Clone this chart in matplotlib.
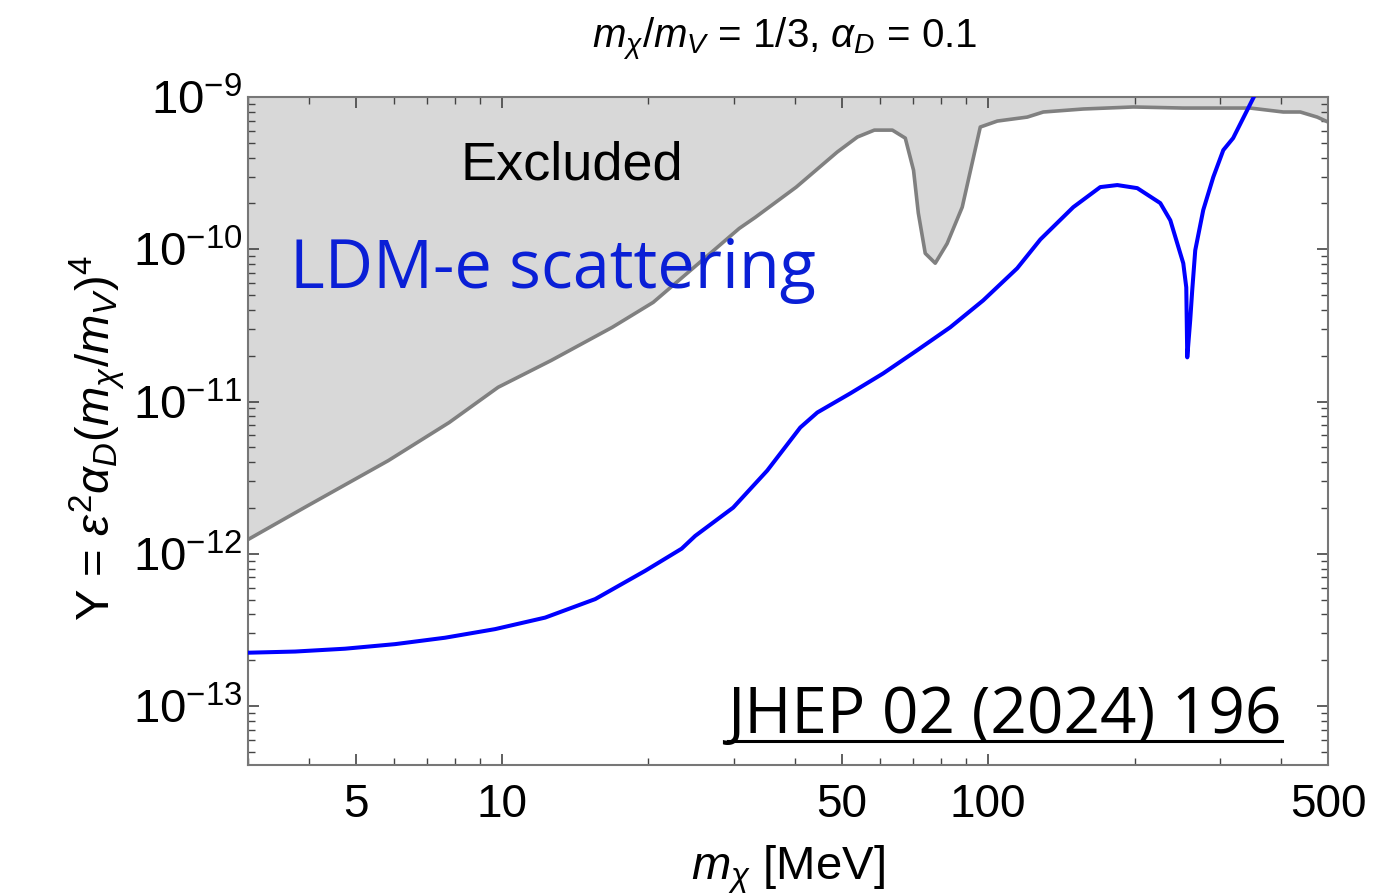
import numpy as np
import matplotlib
matplotlib.use("Agg")
import matplotlib.pyplot as plt
from matplotlib.ticker import FixedLocator, FixedFormatter, LogFormatterSciNotation, NullFormatter
from matplotlib.lines import Line2D

plt.rcParams['font.family'] = ['Liberation Sans', 'DejaVu Sans']
plt.rcParams['mathtext.fontset'] = 'custom'
plt.rcParams['mathtext.rm'] = 'Liberation Sans'
plt.rcParams['mathtext.it'] = 'Liberation Sans:italic'
plt.rcParams['mathtext.bf'] = 'Liberation Sans:bold'

# Exclusion boundary (gray)
gray_m = [3.0, 3.95, 5.83, 7.78, 9.81, 12.61, 16.84, 20.45, 24.83, 30.74, 33.17,
          40.27, 48.9, 53.8, 58.3, 63.5, 67.5, 70.2, 71.8, 74.2, 77.8, 82.3, 88.4,
          96.3, 104.4, 120.3, 129.8, 156.8, 198.8, 251.9, 346.0, 404.6, 438.5,
          475.0, 500.0]
gray_y = [1.24e-12, 2.04e-12, 4.09e-12, 7.28e-12, 1.24e-11, 1.86e-11, 3.07e-11,
          4.48e-11, 7.62e-11, 1.37e-10, 1.62e-10, 2.56e-10, 4.35e-10, 5.46e-10,
          6.06e-10, 6.06e-10, 5.37e-10, 3.3e-10, 1.73e-10, 9.4e-11, 8.1e-11,
          1.09e-10, 1.89e-10, 6.35e-10, 6.95e-10, 7.38e-10, 7.97e-10, 8.34e-10,
          8.6e-10, 8.46e-10, 8.46e-10, 7.97e-10, 7.97e-10, 7.38e-10, 6.85e-10]

# LDM-e scattering (blue)
blue_m = [3.0, 3.75, 4.75, 6.02, 7.63, 9.67, 12.26, 15.54, 19.69, 23.4, 24.95,
          29.87, 35.1, 41.05, 44.5, 52.0, 60.8, 71.4, 83.5, 97.6, 114.7, 128.0,
          149.6, 170.0, 184.3, 202.6, 225.9, 236.9, 244.9, 251.9, 255.5, 256.7,
          260.3, 262.8, 266.6, 276.9, 290.4, 304.5, 319.0, 351.0, 360.0]
blue_y = [2.24e-13, 2.28e-13, 2.38e-13, 2.55e-13, 2.81e-13, 3.20e-13, 3.81e-13,
          5.04e-13, 7.73e-13, 1.08e-12, 1.31e-12, 2.01e-12, 3.52e-12, 6.75e-12,
          8.47e-12, 1.13e-11, 1.53e-11, 2.17e-11, 3.07e-11, 4.61e-11, 7.50e-11,
          1.16e-10, 1.89e-10, 2.56e-10, 2.64e-10, 2.52e-10, 2.01e-10, 1.55e-10,
          1.09e-10, 8.09e-11, 5.62e-11, 1.95e-11, 3.41e-11, 5.37e-11, 9.85e-11,
          1.81e-10, 2.98e-10, 4.48e-10, 5.37e-10, 9.85e-10, 1.15e-9]

x_major = [5, 10, 50, 100, 500]
x_major_labels = ['5', '10', '50', '100', '500']
x_minor = [3, 4, 6, 7, 8, 9, 20, 30, 40, 60, 70, 80, 90, 200, 300, 400]
y_major = [1e-13, 1e-12, 1e-11, 1e-10, 1e-9]
y_minor = [k * d for d in [1e-14, 1e-13, 1e-12, 1e-11, 1e-10] for k in range(2, 10)
           if k * d >= 4.1e-14]

fig = plt.figure(figsize=(13.73, 8.96), dpi=100)
ax = fig.add_axes([248/1373, 1-765/896, (1328-248)/1373, (765-97)/896])

ax.set_xscale('log')
ax.set_yscale('log')
ax.set_xlim(3, 500)
ax.set_ylim(4.1e-14, 1e-9)

ax.fill_between(gray_m, gray_y, 1e-8, color='#d8d8d8', linewidth=0, zorder=1)
ax.plot(gray_m, gray_y, color='#808080', lw=2.6, zorder=2, solid_joinstyle='round')
ax.plot(blue_m, blue_y, color='#0000ff', lw=2.9, zorder=3, solid_joinstyle='round')

ax.xaxis.set_major_locator(FixedLocator(x_major))
ax.xaxis.set_major_formatter(FixedFormatter(x_major_labels))
ax.xaxis.set_minor_locator(FixedLocator(x_minor))
ax.xaxis.set_minor_formatter(NullFormatter())
ax.yaxis.set_major_locator(FixedLocator(y_major))
ax.yaxis.set_major_formatter(LogFormatterSciNotation())
ax.yaxis.set_minor_locator(FixedLocator(y_minor))
ax.yaxis.set_minor_formatter(NullFormatter())

ax.tick_params(which='both', direction='in', top=True, right=True, color='#444444')
ax.tick_params(which='major', length=8, width=1.2)
ax.tick_params(which='minor', length=5, width=1.0)
ax.tick_params(axis='x', which='major', labelsize=33, pad=13)
ax.tick_params(axis='y', which='major', labelsize=34, pad=4)
for s in ax.spines.values():
    s.set_color('#777777')
    s.set_linewidth(1.5)

ax.set_xlabel(r'$m_\chi$ [MeV]', fontsize=34)
ax.xaxis.set_label_coords(0.5, -0.117)
ax.set_ylabel(r'Y = $\epsilon^2\alpha_D(m_\chi/m_V)^4$', fontsize=34)
ax.yaxis.set_label_coords(-0.112, 0.49)
fig.text(785/1373, 1-40/896, r'$m_\chi/m_V$ = 1/3, $\alpha_D$ = 0.1', fontsize=29,
         ha='center', va='center')

fig.text(572/1373, 1-165/896, 'Excluded', fontsize=39, ha='center', va='center')
fig.text(290/1373, 1-270/896, 'LDM-e scattering', fontsize=48, color='#0a1fd6',
         ha='left', va='center', family='Open Sans')
t = fig.text(1282/1373, 1-733/896, 'JHEP 02 (2024) 196', fontsize=46, color='black',
             ha='right', va='baseline', family='Open Sans')

fig.canvas.draw()
bb = t.get_window_extent(fig.canvas.get_renderer())
line_y = 1 - 741/896
fig.add_artist(Line2D([bb.x0 / fig.bbox.width, bb.x1 / fig.bbox.width], [line_y, line_y],
                      transform=fig.transFigure, color='black', lw=2.2))

fig.savefig('out.png', dpi=100)
